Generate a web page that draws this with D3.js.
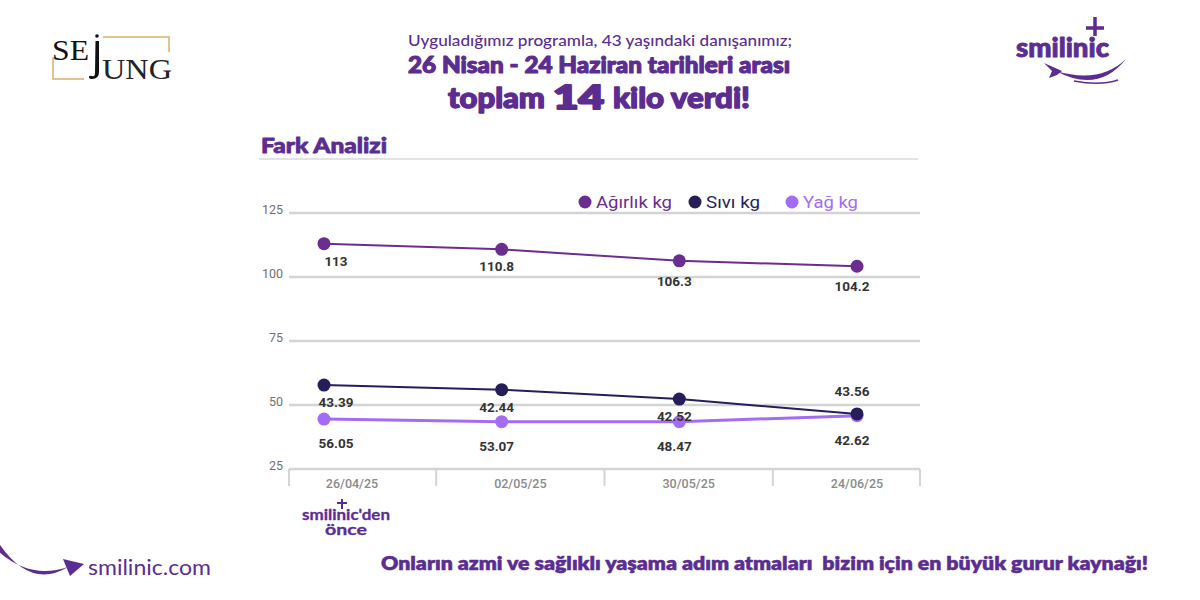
<!DOCTYPE html>
<html><head><meta charset="utf-8">
<script src="https://cdn.jsdelivr.net/npm/d3@7"></script>
<style>body{margin:0;background:#fff} svg{display:block} text{white-space:pre}</style>
</head><body><svg id="c" width="1200" height="600"></svg>
<script>
// ---- data ----
const dates = ["26/04/25","02/05/25","30/05/25","24/06/25"];
const seriesNames = ["Ağırlık kg","Sıvı kg","Yağ kg"];
const agirlik = [113, 110.8, 106.3, 104.2];
const sivi = [57.8, 56.0, 52.3, 46.5];
const yag = [44.5, 43.5, 43.5, 45.8];
const agirlikLabels = ["113","110.8","106.3","104.2"];
const siviLabels = ["43.39","42.44","42.52","43.56"];
const yagLabels = ["56.05","53.07","48.47","42.62"];
const yTicks = [25,50,75,100,125];

const PURPLE = "#5c2d91";
const colors = {"Ağırlık kg":"#6b2d90","Sıvı kg":"#251e5a","Yağ kg":"#a46cf2"};
const HEAVY = "Lato, 'Open Sans', sans-serif";

const svg = d3.select("#c");

// ---- header: SEJUNG logo ----
const lg = svg.append("g");
lg.append("path").attr("d","M103,37H169V52M53,57V79H84").attr("fill","none").attr("stroke","#dcae6e").attr("stroke-width",1.5);
lg.append("text").attr("x",52).attr("y",60).attr("font-family","'Liberation Serif',serif").attr("font-size",30)
  .attr("textLength",37).attr("lengthAdjust","spacingAndGlyphs").attr("fill","#111").text("SE");
lg.append("circle").attr("cx",97).attr("cy",36).attr("r",1.8).attr("fill","#111");
lg.append("path").attr("d","M95.5,41h3.5v31q0,7 -7,7q-3,0 -3,-2q0,-2 3,-1q3,1 3,-3z").attr("fill","#111");
lg.append("text").attr("x",102).attr("y",79).attr("font-family","'Liberation Serif',serif").attr("font-size",29)
  .attr("textLength",70).attr("lengthAdjust","spacingAndGlyphs").attr("fill","#222").text("UNG");

// ---- header titles ----
function t(x,y,str,size,weight,len,anchor,stroke){
  const el = svg.append("text").attr("x",x).attr("y",y).attr("font-family",HEAVY).attr("font-size",size)
    .attr("font-weight",weight).attr("fill",PURPLE).attr("text-anchor",anchor||"start")
    .attr("textLength",len).attr("lengthAdjust","spacingAndGlyphs").text(str);
  if (stroke) el.attr("stroke",PURPLE).attr("stroke-width",stroke).attr("stroke-linejoin","round");
  return el;
}
t(600,46,"Uyguladığımız programla, 43 yaşındaki danışanımız;",16,500,384,"middle");
t(599,73,"26 Nisan - 24 Haziran tarihleri arası",22,900,382,"middle",1.1);
t(448,108,"toplam",28,900,97,null,1.4);
t(553,109,"14",32,900,51,null,2.2);
t(613,108,"kilo verdi!",28,900,137,null,1.4);

// ---- smilinic logo (top right) ----
const sl = svg.append("g");
t(1016,57,"smilinic",26,900,93,null,0.9);
sl.append("path").attr("d","M1095,17V36M1086,28H1104").attr("stroke",PURPLE).attr("stroke-width",3.5);
sl.append("path").attr("d","M1056,71Q1098,94 1126,59Q1100,84 1056,71Z").attr("fill",PURPLE);
sl.append("path").attr("d","M1044,63L1062,71L1057,75L1049,78L1052,71Z").attr("fill",PURPLE);
sl.append("path").attr("d","M1074,81Q1100,86 1118,80").attr("fill","none").attr("stroke",PURPLE).attr("stroke-width",1.5);

// ---- section title ----
t(261,153,"Fark Analizi",21,900,126,null,0.8);
svg.append("line").attr("x1",259).attr("x2",918).attr("y1",159).attr("y2",159).attr("stroke","#e3e3e3").attr("stroke-width",2);

// ---- scales ----
const y = d3.scaleLinear().domain([25,125]).range([469,213]);
const x = d3.scalePoint().domain(dates).range([324,857]);
const xl = d3.scalePoint().domain(dates).range([352,857]);
const left = 289, right = 920;

// gridlines
svg.append("g").selectAll("line").data(yTicks).join("line")
  .attr("x1",left).attr("x2",right).attr("y1",d=>y(d)).attr("y2",d=>y(d))
  .attr("stroke","#d4d4d4").attr("stroke-width",2.5);
svg.append("g").selectAll("text").data(yTicks).join("text")
  .attr("x",283).attr("y",d=>y(d)+1).attr("text-anchor","end")
  .attr("font-family","Roboto, sans-serif").attr("font-size",12.5).attr("fill","#6f6f6f").text(d=>d);

// x axis separators & labels
const seps = [left].concat(dates.slice(1).map((d,i)=> (xl(dates[i])+xl(d))/2)).concat([right]);
svg.append("g").selectAll("line").data(seps).join("line")
  .attr("x1",d=>d).attr("x2",d=>d).attr("y1",y(25)).attr("y2",y(25)+17)
  .attr("stroke","#d4d4d4").attr("stroke-width",2);
svg.append("g").selectAll("text").data(dates).join("text")
  .attr("x",d=>xl(d)).attr("y",y(25)+19).attr("text-anchor","middle")
  .attr("font-family","Roboto, sans-serif").attr("font-weight",500).attr("font-size",12.5).attr("fill","#8a8a8a").text(d=>d);

// ---- series ----
const series = [
  {name:"Yağ kg", vals:yag, labels:yagLabels, width:3},
  {name:"Sıvı kg", vals:sivi, labels:siviLabels, width:2},
  {name:"Ağırlık kg", vals:agirlik, labels:agirlikLabels, width:2}
];
const line = d3.line().x((d,i)=>x(dates[i])).y(d=>y(d));
series.forEach(s=>{
  const g = svg.append("g");
  g.append("path").attr("d",line(s.vals)).attr("fill","none").attr("stroke",colors[s.name]).attr("stroke-width",s.width);
  g.selectAll("circle").data(s.vals).join("circle")
    .attr("cx",(d,i)=>x(dates[i])).attr("cy",d=>y(d)).attr("r",6.5).attr("fill",colors[s.name]);
});

// data labels
function labelY(s,i){
  const py = y(s.vals[i]);
  if (s.name==="Ağırlık kg") return py + (i>=2 ? 25 : 22);
  if (s.name==="Yağ kg") return py+29;
  const oy = y(yag[i]);
  return Math.abs(oy-py) < 12 ? py-18 : py+22;
}
series.forEach(s=>{
  svg.append("g").selectAll("text").data(s.labels).join("text")
    .attr("x",(d,i)=>x(dates[i]) + (i===0?12:-5)).attr("y",(d,i)=>labelY(s,i))
    .attr("text-anchor","middle").attr("font-family","Roboto, sans-serif").attr("font-weight",700)
    .attr("font-size",13.5).attr("fill","#333").text(d=>d);
});

// ---- legend ----
const legX = [585,695,792];
const legLen = [76,54,55];
const leg = svg.append("g").selectAll("g").data(seriesNames).join("g");
leg.append("circle").attr("cx",(d,i)=>legX[i]).attr("cy",202).attr("r",6.5).attr("fill",d=>colors[d]);
leg.append("text").attr("x",(d,i)=>legX[i]+11).attr("y",208).attr("font-family","Roboto, sans-serif")
  .attr("font-size",17).attr("fill",d=>colors[d]).attr("textLength",(d,i)=>legLen[i]).attr("lengthAdjust","spacingAndGlyphs").text(d=>d);

// ---- smilinic'den önce ----
svg.append("path").attr("d","M342,499V509M337,503H347").attr("stroke",PURPLE).attr("stroke-width",2);
t(346,520,"smilinic'den",14.5,700,88,"middle",0.3);
t(346,535,"önce",14.5,700,42,"middle",0.3);

// ---- footer ----
svg.append("path").attr("d","M-2,542Q30,590 68,567Q30,580 -2,551Z").attr("fill",PURPLE);
svg.append("path").attr("d","M63,559L84,564L70,576Z").attr("fill",PURPLE);
t(88,575,"smilinic.com",21,400,123);
t(381,570,"Onların azmi ve sağlıklı yaşama adım atmaları  bizim için en büyük gurur kaynağı!",19,800,767,null,0.5);
</script></body></html>
